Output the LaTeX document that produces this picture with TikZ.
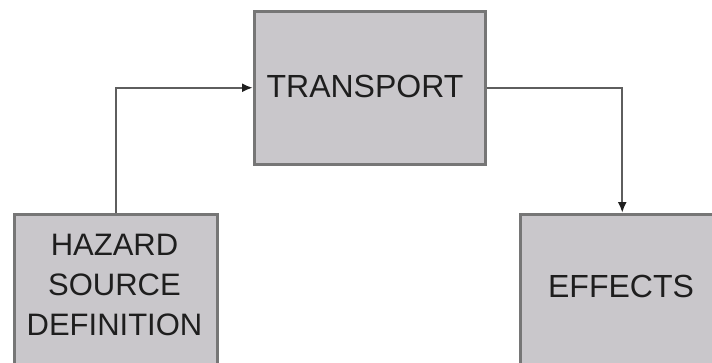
\documentclass[tikz,border=0pt]{standalone}
\usepackage{fontspec}
\setmainfont{Liberation Sans}
\usetikzlibrary{arrows.meta}
\definecolor{boxfill}{HTML}{C9C7CB}
\definecolor{boxline}{HTML}{767676}
\definecolor{conn}{HTML}{5E5E5E}
\definecolor{tip}{HTML}{1E1E1E}
\definecolor{txt}{HTML}{1E1E1E}
\begin{document}
\begin{tikzpicture}[x=1pt,y=-1pt,
  blockbox/.style={draw=boxline,line width=2.5pt,fill=boxfill,inner sep=0pt,anchor=north west},
  blocktext/.style={text=txt,font=\fontsize{32}{40}\selectfont,align=center,inner sep=0pt},
  conline/.style={draw=conn,line width=2.4pt,-{Latex[length=11pt,width=9pt,fill=tip,color=tip]}}]
\useasboundingbox (0,0) rectangle (712,362);
\clip (0,0) rectangle (712,362);
\fill[white] (0,0) rectangle (712,362);
\node[blockbox,minimum width=231pt,minimum height=153pt] (tr) at (253,10) {};
\node[blockbox,minimum width=203pt,minimum height=200pt] (hz) at (13,213) {};
\node[blockbox,minimum width=204pt,minimum height=200pt] (ef) at (519,213) {};
\node[blocktext] (trt) at (365,86.5) {TRANSPORT};
\node[blocktext,font=\fontsize{31}{40}\selectfont] (hzt) at (114.5,285) {HAZARD\\SOURCE\\DEFINITION};
\node[blocktext] (eft) at (621,286) {EFFECTS};
\draw[conline] (hz.north) |- (tr.west);
\draw[conline] (tr.east) -| (ef.north);
\end{tikzpicture}
\end{document}
